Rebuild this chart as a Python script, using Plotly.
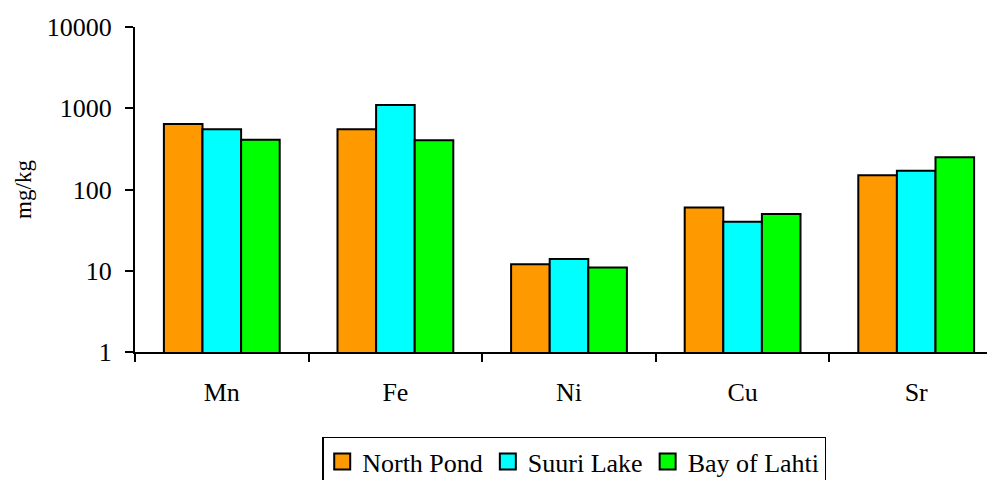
import plotly.graph_objects as go

elements = ["Mn", "Fe", "Ni", "Cu", "Sr"]
north_pond = [640, 550, 12, 60, 150]
suuri_lake = [550, 1100, 14, 40, 170]
bay_of_lahti = [410, 405, 11, 50, 250]
series_names = ["North Pond", "Suuri Lake", "Bay of Lahti"]
series_colors = ["#FF9900", "#00FFFF", "#00FF00"]
y_ticks = [1, 10, 100, 1000, 10000]
y_tick_labels = ["1", "10", "100", "1000", "10000"]

FONT = "Liberation Serif"

fig = go.Figure()
for name, vals, col in zip(series_names, [north_pond, suuri_lake, bay_of_lahti], series_colors):
    fig.add_trace(go.Bar(
        x=elements, y=vals, name=name, legendgroup=name, showlegend=False,
        marker=dict(color=col, line=dict(color="black", width=2)),
    ))
# legend swatches (larger squares, like the reference legend)
for name, col in zip(series_names, series_colors):
    fig.add_trace(go.Scatter(
        x=[None], y=[None], mode="markers", name=name, legendgroup=name,
        marker=dict(symbol="square", size=16, color=col, line=dict(color="black", width=2)),
        hoverinfo="skip",
    ))

fig.update_layout(
    width=995, height=480,
    margin=dict(l=127, r=0, t=19, b=136),
    paper_bgcolor="white", plot_bgcolor="white",
    barmode="group", bargap=0.333, bargroupgap=0,
    font=dict(family=FONT, size=26, color="black"),
    showlegend=True,
    legend=dict(
        orientation="h", x=0.506, xanchor="center", y=-0.26, yanchor="top",
        bordercolor="black", borderwidth=1.5, bgcolor="white", itemsizing="trace",
        font=dict(family=FONT, size=26), itemwidth=30, tracegroupgap=0,
    ),
    xaxis=dict(
        type="category", categoryarray=elements, range=[-0.5, 4.5], automargin=False,
        showline=True, linecolor="black", linewidth=2,
        ticks="outside", tickson="boundaries", ticklen=8, tickwidth=2, tickcolor="black",
        ticklabelstandoff=16, showgrid=False, zeroline=False,
        tickfont=dict(family=FONT, size=26),
    ),
    yaxis=dict(
        type="log", range=[0, 4], automargin=False,
        tickvals=y_ticks, ticktext=y_tick_labels,
        showline=True, linecolor="black", linewidth=2,
        ticks="outside", ticklen=8, tickwidth=2, tickcolor="black",
        ticklabelstandoff=8, showgrid=False, zeroline=False,
        tickfont=dict(family=FONT, size=26),
        title=dict(text="mg/kg", standoff=9, font=dict(family=FONT, size=23)),
    ),
)

fig.write_html("out.html")
